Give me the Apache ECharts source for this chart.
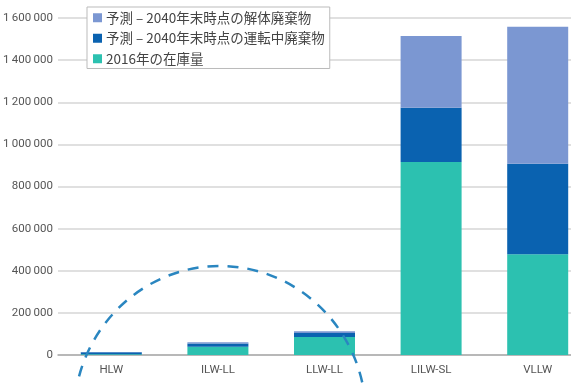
<!DOCTYPE html>
<html>
<head>
<meta charset="utf-8">
<script src="https://cdn.jsdelivr.net/npm/echarts@6/dist/echarts.min.js"></script>
<style>
  html, body { margin: 0; padding: 0; background: #fff; }
  #chart { width: 571px; height: 383px; }
</style>
</head>
<body>
<div id="chart"></div>
<script>
const categories = ['HLW', 'ILW-LL', 'LLW-LL', 'LILW-SL', 'VLLW']
const stock2016 = [4000, 39000, 86000, 916000, 478000]
const forecastOperation = [9000, 16000, 19000, 258000, 430000]
const forecastDecommission = [1000, 6000, 8000, 341000, 650000]
const seriesNames = ['予測 – 2040年末時点の解体廃棄物', '予測 – 2040年末時点の運転中廃棄物', '2016年の在庫量']

const chart = echarts.init(document.getElementById('chart'))
const fmt = v => String(v).replace(/\B(?=(\d{3})+(?!\d))/g, '\u2009')
const labelFont = "'Liberation Sans Narrow', Roboto, sans-serif"

chart.setOption({
  animation: false,
  grid: { left: 58, top: 18, width: 533, height: 337, outerBoundsMode: 'none', containLabel: false },
  legend: {
    data: seriesNames, orient: 'vertical', left: 87, top: 7,
    padding: [4, 5, 3, 6], itemGap: 7, itemWidth: 9, itemHeight: 9, itemStyle: { borderWidth: 0 }, icon: 'rect',
    backgroundColor: '#fff', borderColor: '#bbb', borderWidth: 1,
    textStyle: { fontFamily: 'Noto Sans CJK JP', fontSize: 13.5, color: '#444', padding: [0, 0, 0, -1] }
  },
  xAxis: {
    type: 'category', data: categories,
    axisTick: { show: false },
    axisLine: { lineStyle: { color: '#aaa', width: 1.5 } },
    axisLabel: { color: '#555', fontSize: 11.5, fontFamily: labelFont, margin: 9 }
  },
  yAxis: {
    type: 'value', min: 0, max: 1600000, interval: 200000,
    axisLabel: { color: '#555', fontSize: 11.5, fontFamily: labelFont, formatter: fmt, margin: 5 },
    splitLine: { lineStyle: { color: '#d6d6d6', width: 1.5 } }
  },
  series: [
    { name: seriesNames[2], type: 'bar', stack: 'w', barWidth: 61, data: stock2016, itemStyle: { color: '#2cc1b0' } },
    { name: seriesNames[1], type: 'bar', stack: 'w', data: forecastOperation, itemStyle: { color: '#0a62b0' } },
    { name: seriesNames[0], type: 'bar', stack: 'w', data: forecastDecommission, itemStyle: { color: '#7b97d2' } }
  ]
})

// dashed annotation ellipse around the long-lived categories
const c = chart.convertToPixel({ gridIndex: 0 }, ['ILW-LL', 0])
chart.setOption({
  graphic: [{
    type: 'ellipse', silent: true, z: 100,
    shape: { cx: c[0] + 2, cy: c[1] + 61, rx: 146, ry: 150 },
    style: { fill: 'none', stroke: '#2a86c0', lineWidth: 2.5, lineDash: [11, 9] }
  }]
})
</script>
</body>
</html>
